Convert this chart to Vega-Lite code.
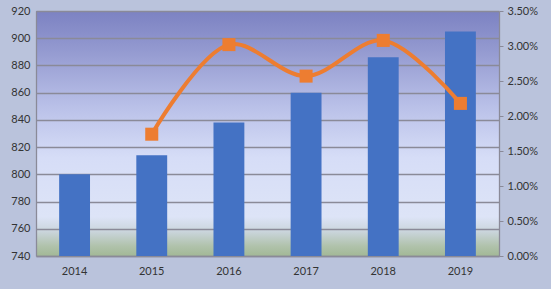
{
  "$schema": "https://vega.github.io/schema/vega-lite/v6.json",
  "width": 463,
  "height": 245,
  "autosize": "none",
  "padding": {"left": 36, "top": 11, "right": 52, "bottom": 33},
  "background": "#bac3dc",
  "config": {
    "font": "Lato",
    "view": {
      "stroke": null,
      "fill": {
        "gradient": "linear", "x1": 0, "y1": 0, "x2": 0, "y2": 1,
        "stops": [
          {"offset": 0, "color": "#7c82c2"},
          {"offset": 0.15, "color": "#9298cf"},
          {"offset": 0.4, "color": "#bbc2e9"},
          {"offset": 0.6, "color": "#d6ddf7"},
          {"offset": 0.84, "color": "#dde4f7"},
          {"offset": 0.9, "color": "#cad5dc"},
          {"offset": 0.96, "color": "#b0c2ab"},
          {"offset": 1, "color": "#a2b896"}
        ]
      }
    },
    "axis": {
      "labelFont": "Lato",
      "labelFontSize": 11,
      "labelColor": "#333333",
      "domainColor": "#8a8a98",
      "tickColor": "#8a8a98",
      "title": null
    }
  },
  "data": {
    "values": [
      {"year": "2014", "value": 800, "growth": null},
      {"year": "2015", "value": 814, "growth": 0.0174},
      {"year": "2016", "value": 838, "growth": 0.0302},
      {"year": "2017", "value": 860, "growth": 0.0257},
      {"year": "2018", "value": 886, "growth": 0.0308},
      {"year": "2019", "value": 905, "growth": 0.0218}
    ]
  },
  "encoding": {
    "x": {
      "field": "year", "type": "ordinal",
      "scale": {"paddingInner": 0.6, "paddingOuter": 0.3},
      "axis": {"labelAngle": 0, "ticks": false, "labelPadding": 9, "domainWidth": 1.3}
    }
  },
  "layer": [
    {
      "mark": {"type": "bar", "color": "#4472c4"},
      "encoding": {
        "y": {
          "field": "value", "type": "quantitative",
          "scale": {"domain": [740, 920], "zero": false, "nice": false},
          "axis": {
            "values": [740, 760, 780, 800, 820, 840, 860, 880, 900, 920],
            "ticks": false, "labelPadding": 6,
            "grid": true, "gridColor": "#8a8a98", "gridWidth": 1.3, "gridOpacity": 1,
            "domainWidth": 1.3
          }
        },
        "y2": {"datum": 740}
      }
    },
    {
      "mark": {
        "type": "line", "interpolate": "catmull-rom", "color": "#ed7d31", "strokeWidth": 4,
        "point": {"shape": "square", "size": 170, "filled": true, "color": "#ed7d31", "opacity": 1}
      },
      "encoding": {
        "y": {
          "field": "growth", "type": "quantitative",
          "scale": {"domain": [0, 0.035], "nice": false},
          "axis": {
            "orient": "right", "format": ".2%",
            "values": [0, 0.005, 0.01, 0.015, 0.02, 0.025, 0.03, 0.035],
            "grid": false, "tickSize": 4, "labelPadding": 4, "domainWidth": 1.3
          }
        }
      }
    }
  ],
  "resolve": {"scale": {"y": "independent"}}
}
